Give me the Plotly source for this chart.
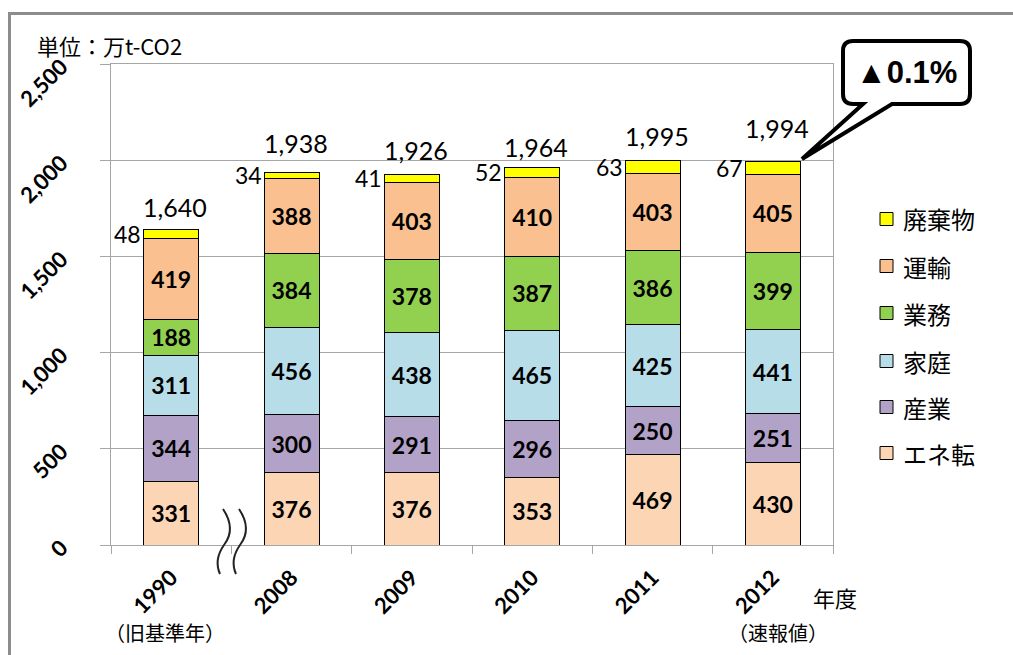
import plotly.graph_objects as go

# CO2 emissions by sector (万t-CO2)
years = ["1990", "2008", "2009", "2010", "2011", "2012"]
sectors = ["エネ転", "産業", "家庭", "業務", "運輸", "廃棄物"]
energy = [331, 376, 376, 353, 469, 430]
industry = [344, 300, 291, 296, 250, 251]
household = [311, 456, 438, 465, 425, 441]
business = [188, 384, 378, 387, 386, 399]
transport = [419, 388, 403, 410, 403, 405]
waste = [48, 34, 41, 52, 63, 67]
totals = [1640, 1938, 1926, 1964, 1995, 1994]
total_labels = ["1,640", "1,938", "1,926", "1,964", "1,995", "1,994"]
y_ticks = [0, 500, 1000, 1500, 2000, 2500]
y_tick_labels = ["0", "500", "1,000", "1,500", "2,000", "2,500"]
change_label = "▲0.1%"

series = [energy, industry, household, business, transport, waste]
colors = ["#FCD5B5", "#B3A2C7", "#B7DEE8", "#92D050", "#FAC090", "#FFFF00"]

NUM_FONT = "Lato, 'Noto Sans', sans-serif"
JP_FONT = "'Noto Sans CJK JP', sans-serif"

W, H = 1013, 655
L, R, T, B = 111, 833, 64, 545


def px(x):
    return (x - L) / (R - L)


def py(y):
    return (B - y) / (B - T)


idx = list(range(len(years)))

fig = go.Figure()
for name, vals, col in zip(sectors, series, colors):
    show_text = name != "廃棄物"
    fig.add_trace(go.Bar(
        x=idx, y=vals, name=name,
        marker=dict(color=col, line=dict(color="black", width=1)),
        text=[f"<b>{v}</b>" for v in vals] if show_text else None,
        textposition="inside" if show_text else "none",
        insidetextanchor="middle",
        textfont=dict(family=NUM_FONT, size=23, color="black"),
        constraintext="none",
        showlegend=False,
        hovertext=[f"{y}: {name} {v}" for y, v in zip(years, vals)],
        hoverinfo="text",
    ))

annotations = []
# totals above the stacks
total_shift = [22, 29, 24, 20, 25, 33]
for i, tot, lab, sh in zip(idx, totals, total_labels, total_shift):
    annotations.append(dict(
        x=i, y=tot, text=lab, showarrow=False, yshift=sh, xshift=4,
        font=dict(family=NUM_FONT, size=25, color="black"),
        xref="x", yref="y"))

# waste values to the left of the top segment
for i in idx:
    base = sum(s[i] for s in series[:-1])
    annotations.append(dict(
        x=i, y=base + waste[i] / 2, text=str(waste[i]), showarrow=False,
        xanchor="right", xshift=-28,
        font=dict(family=NUM_FONT, size=23, color="black"),
        xref="x", yref="y"))

# legend drawn as swatches + labels (top to bottom: 廃棄物 ... エネ転)
legend_rows = [219, 266, 313, 361, 407, 453]
shapes = []
for (name, col), yc in zip(list(zip(sectors, colors))[::-1], legend_rows):
    shapes.append(dict(
        type="rect", xref="paper", yref="paper",
        x0=px(880), x1=px(893), y0=py(yc - 6.5), y1=py(yc + 6.5),
        fillcolor=col, line=dict(color="black", width=1)))
    annotations.append(dict(
        x=px(901), y=py(yc), xref="paper", yref="paper", text=name,
        showarrow=False, xanchor="left", yanchor="middle",
        font=dict(family=JP_FONT, size=24, color="black")))

# text around the axes
annotations += [
    dict(x=px(35), y=py(45), text="単位：万t-CO2", showarrow=False,
         xanchor="left", yanchor="middle", xref="paper", yref="paper",
         font=dict(family=JP_FONT, size=22, color="black")),
    dict(x=px(835), y=py(597), text="年度", showarrow=False,
         xanchor="center", yanchor="middle", xref="paper", yref="paper",
         font=dict(family=JP_FONT, size=22, color="black")),
    dict(x=px(165), y=py(632), text="（旧基準年）", showarrow=False,
         xanchor="center", yanchor="middle", xref="paper", yref="paper",
         font=dict(family=JP_FONT, size=20, color="black")),
    dict(x=px(778), y=py(632), text="（速報値）", showarrow=False,
         xanchor="center", yanchor="middle", xref="paper", yref="paper",
         font=dict(family=JP_FONT, size=20, color="black")),
    dict(x=px(907), y=py(72), text=f"<b>{change_label}</b>", showarrow=False,
         xanchor="center", yanchor="middle", xref="paper", yref="paper",
         font=dict(family="'Liberation Sans', Arial, sans-serif", size=31,
                   color="black")),
]


def path_str(pts_cmds):
    out = []
    for cmd, *pts in pts_cmds:
        coords = " ".join(f"{px(x):.5f},{py(y):.5f}" for x, y in pts)
        out.append(f"{cmd} {coords}".strip())
    return " ".join(out)


# speech-bubble callout for the change rate
x0, x1, y0, y1, r = 843, 970, 41, 104, 10
bubble = path_str([
    ("M", (x0 + r, y0)), ("L", (x1 - r, y0)), ("Q", (x1, y0), (x1, y0 + r)),
    ("L", (x1, y1 - r)), ("Q", (x1, y1), (x1 - r, y1)),
    ("L", (892, y1)), ("L", (802, 159)), ("L", (863, y1)),
    ("L", (x0 + r, y1)), ("Q", (x0, y1), (x0, y1 - r)),
    ("L", (x0, y0 + r)), ("Q", (x0, y0), (x0 + r, y0)), ("Z",),
])
shapes.append(dict(type="path", xref="paper", yref="paper", path=bubble,
                   fillcolor="white", line=dict(color="black", width=4),
                   layer="above"))

# axis break marks between 1990 and 2008
for dx in (0, 16):
    wave = path_str([
        ("M", (223 + dx, 509)),
        ("C", (233 + dx, 524), (231 + dx, 536), (224 + dx, 545)),
        ("C", (217 + dx, 555), (216 + dx, 565), (220 + dx, 574)),
    ])
    shapes.append(dict(type="path", xref="paper", yref="paper", path=wave,
                       line=dict(color="#222222", width=2), layer="above"))

# outer frame (left and top edges)
frame_col = "#8C8C8C"
shapes.append(dict(type="line", xref="paper", yref="paper",
                   x0=px(9.5), x1=px(9.5), y0=py(12), y1=py(660),
                   line=dict(color=frame_col, width=3)))
shapes.append(dict(type="line", xref="paper", yref="paper",
                   x0=px(8), x1=px(1020), y0=py(13.5), y1=py(13.5),
                   line=dict(color=frame_col, width=3)))

axis_col = "#A6A6A6"
fig.update_layout(
    width=W, height=H,
    margin=dict(l=L, r=W - R, t=T, b=H - B, pad=0),
    barmode="stack", bargap=0.543,
    plot_bgcolor="white", paper_bgcolor="white",
    showlegend=False,
    annotations=annotations, shapes=shapes,
    xaxis=dict(
        range=[-0.5, len(years) - 0.5], tickvals=idx,
        ticktext=[f"<b>{y}</b>" for y in years],
        showline=True, linecolor=axis_col, linewidth=1, mirror=True,
        ticks="", tickangle=-45, showgrid=False, zeroline=False,
        ticklabelstandoff=10,
        tickfont=dict(family=NUM_FONT, size=22, color="black"),
        minor=dict(tickvals=[i - 0.5 for i in range(len(years) + 1)],
                   ticks="outside", ticklen=8, tickcolor=axis_col,
                   showgrid=False),
    ),
    yaxis=dict(
        range=[0, 2500], tickvals=y_ticks,
        ticktext=[f"<b>{t}</b>" for t in y_tick_labels],
        showline=True, linecolor=axis_col, linewidth=1, mirror=True,
        ticks="outside", ticklen=10, tickcolor=axis_col,
        gridcolor=axis_col, gridwidth=1, zeroline=False, tickangle=-45,
        ticklabelstandoff=34,
        tickfont=dict(family=NUM_FONT, size=22, color="black"),
    ),
    uniformtext=dict(mode=False),
)

fig.write_html("out.html")
